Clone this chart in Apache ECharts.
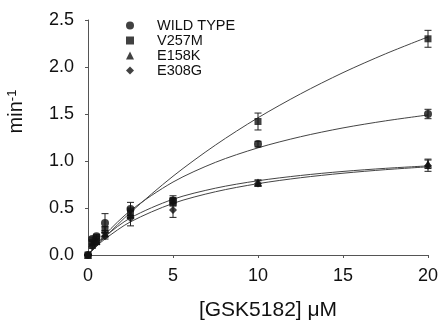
<!DOCTYPE html>
<html>
<head>
<meta charset="utf-8">
<script src="https://cdn.jsdelivr.net/npm/echarts@6/dist/echarts.min.js"></script>
<style>
  html, body { margin: 0; padding: 0; background: #fff; }
  #main { width: 440px; height: 327px; }
</style>
</head>
<body>
<div id="main"></div>
<script>
// measured points
var conc = [0, 0.25, 0.5, 1, 2.5, 5, 10, 20];
var names = ['WILD TYPE', 'V257M', 'E158K', 'E308G'];
var symbols = ['circle', 'rect', 'triangle', 'diamond'];
var wt = [0, 0.17, 0.2, 0.34, 0.49, 0.58, 1.18, 1.5];
var wtErr = [0, 0.02, 0.02, 0.1, 0.07, 0.03, 0.03, 0.05];
var v257m = [0, 0.14, 0.18, 0.27, 0.45, 0.56, 1.42, 2.3];
var v257mErr = [0, 0.02, 0.02, 0.03, 0.05, 0.04, 0.09, 0.09];
var e158k = [0, 0.12, 0.15, 0.23, 0.44, 0.58, 0.77, 0.97];
var e158kErr = [0, 0.02, 0.02, 0.03, 0.05, 0.05, 0.03, 0.05];
var e308g = [0, 0.09, 0.13, 0.2, 0.39, 0.48, 0.76, 0.95];
var e308gErr = [0, 0.02, 0.02, 0.03, 0.08, 0.08, 0.03, 0.06];

// fitted curves
var fitX = [0, 0.5, 1, 2.5, 5, 7.5, 10, 12.5, 15, 17.5, 20];
var wtFit = [0, 0.115, 0.218, 0.473, 0.776, 0.986, 1.14, 1.258, 1.352, 1.427, 1.49];
var v257mFit = [0, 0.097, 0.19, 0.453, 0.838, 1.17, 1.46, 1.714, 1.94, 2.14, 2.32];
var e158kFit = [0, 0.108, 0.198, 0.395, 0.593, 0.711, 0.79, 0.846, 0.889, 0.922, 0.948];
var e308gFit = [0, 0.092, 0.171, 0.353, 0.549, 0.673, 0.759, 0.822, 0.87, 0.908, 0.938];

var xTicks = [0, 5, 10, 15, 20];
var yTicks = [0, 0.5, 1, 1.5, 2, 2.5];

var values = [wt, v257m, e158k, e308g];
var errs = [wtErr, v257mErr, e158kErr, e308gErr];
var fits = [wtFit, v257mFit, e158kFit, e308gFit];

var font = 'Arial, "Liberation Sans", sans-serif';
var ink = '#111';

function pairs(xs, ys) {
  return xs.map(function (x, i) { return [x, ys[i]]; });
}

var series = [];
for (let k = 0; k < 4; k++) {
  series.push({
    type: 'line',
    data: pairs(fitX, fits[k]),
    smooth: 0.3,
    showSymbol: false,
    silent: true,
    lineStyle: { color: '#444', width: 1 },
    z: 1
  });
  series.push({
    type: 'custom',
    silent: true,
    data: conc.map(function (x, i) { return [x, values[k][i] - errs[k][i], values[k][i] + errs[k][i]]; }),
    renderItem: function (params, api) {
      var lo = api.coord([api.value(0), api.value(1)]);
      var hi = api.coord([api.value(0), api.value(2)]);
      var w = 3.5;
      var st = { stroke: '#222', lineWidth: 1, fill: null };
      return {
        type: 'group',
        children: [
          { type: 'line', shape: { x1: lo[0], y1: lo[1], x2: hi[0], y2: hi[1] }, style: st },
          { type: 'line', shape: { x1: lo[0] - w, y1: lo[1], x2: lo[0] + w, y2: lo[1] }, style: st },
          { type: 'line', shape: { x1: hi[0] - w, y1: hi[1], x2: hi[0] + w, y2: hi[1] }, style: st }
        ]
      };
    },
    z: 2
  });
  series.push({
    name: names[k],
    type: 'scatter',
    data: pairs(conc, values[k]),
    symbol: symbols[k],
    symbolSize: k == 1 ? 7 : 8,
    itemStyle: { color: ink },
    z: 3
  });
}

var chart = echarts.init(document.getElementById('main'));
chart.setOption({
  animation: false,
  backgroundColor: '#fff',
  grid: { left: 88, right: 12, top: 20, bottom: 72, outerBoundsMode: 'none', containLabel: false },
  legend: {
    data: names,
    orient: 'vertical',
    left: 121,
    top: 13,
    itemWidth: 8,
    itemHeight: 8,
    itemGap: 0,
    textStyle: { fontFamily: font, fontSize: 14.5, color: ink, lineHeight: 13.6, padding: [0, 0, 0, 18] }
  },
  xAxis: {
    type: 'value',
    min: 0,
    max: 20,
    interval: 5,
    name: '[GSK5182] \u03bcM',
    nameLocation: 'middle',
    nameGap: 45,
    nameTextStyle: { fontFamily: font, fontSize: 21, color: ink, padding: [0, 0, 0, 20] },
    axisLine: { lineStyle: { color: '#555', width: 1 } },
    axisTick: { length: 3, lineStyle: { color: '#555' } },
    axisLabel: {
      fontFamily: font, fontSize: 18, color: ink, margin: 12,
      formatter: function (v) { return xTicks.indexOf(v) >= 0 ? String(v) : ''; }
    },
    splitLine: { show: false }
  },
  yAxis: {
    type: 'value',
    min: 0,
    max: 2.5,
    interval: 0.5,
    name: 'min{sup|-1}',
    nameLocation: 'middle',
    nameRotate: 90,
    nameGap: 61,
    nameTextStyle: {
      fontFamily: font, fontSize: 20, color: ink, padding: [0, 0, 0, 52],
      rich: { sup: { fontFamily: font, fontSize: 13, color: ink, verticalAlign: 'top', padding: [0, 0, 8, 0] } }
    },
    axisLine: { show: true, lineStyle: { color: '#555', width: 1 } },
    axisTick: { show: true, length: 3, lineStyle: { color: '#555' } },
    axisLabel: {
      fontFamily: font, fontSize: 18, color: ink, margin: 14,
      formatter: function (v) { return yTicks.indexOf(v) >= 0 ? v.toFixed(1) : ''; }
    },
    splitLine: { show: false }
  },
  series: series
});
</script>
</body>
</html>
